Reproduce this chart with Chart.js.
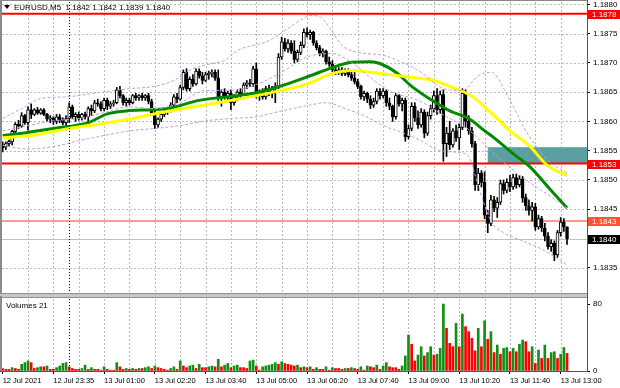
<!DOCTYPE html>
<html>
<head>
<meta charset="utf-8">
<script src="https://cdn.jsdelivr.net/npm/chart.js@4.4.1/dist/chart.umd.min.js"></script>
<style>
  html, body { margin: 0; padding: 0; background: #fff; }
  #wrap { position: relative; width: 620px; height: 388px; overflow: hidden; }
  canvas { position: absolute; left: 0; }
</style>
</head>
<body>
<div id="wrap">
  <canvas id="priceChart" width="620" height="296" style="top:0"></canvas>
  <canvas id="volChart" width="620" height="92" style="top:296px"></canvas>
</div>
<script>
// ---- data (EURUSD M5, one value per bar, bar 0 = 12 Jul 22:15) ----
const symbol = 'EURUSD,M5';

const opens = [
  1.18560,1.18556,1.18562,1.18565,1.18583,1.18595,1.18592,1.18610,1.18598,1.18620,1.18612,1.18620,1.18614,1.18620,1.18612,1.18604,
  1.18606,1.18600,1.18608,1.18602,1.18598,1.18605,1.18625,1.18608,1.18612,1.18606,1.18612,1.18608,1.18622,1.18618,1.18632,1.18630,
  1.18622,1.18636,1.18626,1.18630,1.18632,1.18654,1.18644,1.18632,1.18636,1.18632,1.18644,1.18640,1.18644,1.18640,1.18644,1.18634,
  1.18614,1.18594,1.18604,1.18612,1.18618,1.18620,1.18628,1.18642,1.18638,1.18658,1.18684,1.18656,1.18672,1.18664,1.18686,1.18678,
  1.18670,1.18680,1.18682,1.18684,1.18674,1.18642,1.18650,1.18642,1.18648,1.18632,1.18642,1.18650,1.18646,1.18662,1.18666,1.18664,
  1.18690,1.18646,1.18650,1.18642,1.18656,1.18648,1.18656,1.18660,1.18710,1.18736,1.18724,1.18734,1.18720,1.18706,1.18718,1.18730,
  1.18752,1.18748,1.18752,1.18734,1.18726,1.18716,1.18720,1.18702,1.18698,1.18688,1.18684,1.18688,1.18682,1.18686,1.18680,1.18674,
  1.18668,1.18660,1.18642,1.18648,1.18638,1.18628,1.18634,1.18652,1.18644,1.18652,1.18632,1.18626,1.18608,1.18644,1.18630,1.18636,
  1.18574,1.18588,1.18626,1.18606,1.18594,1.18616,1.18580,1.18610,1.18622,1.18644,1.18620,1.18646,1.18562,1.18580,1.18560,1.18584,
  1.18572,1.18590,1.18648,1.18600,1.18584,1.18562,1.18492,1.18512,1.18496,1.18440,1.18426,1.18466,1.18452,1.18462,1.18494,1.18482,
  1.18496,1.18488,1.18504,1.18492,1.18502,1.18470,1.18456,1.18448,1.18454,1.18420,1.18434,1.18418,1.18404,1.18386,1.18392,1.18372,
  1.18410,1.18428,1.18420
];
const highs = [
  1.18565,1.18565,1.18568,1.18585,1.18598,1.18602,1.18615,1.18612,1.18625,1.18630,1.18622,1.18624,1.18622,1.18622,1.18614,1.18610,
  1.18608,1.18612,1.18612,1.18606,1.18610,1.18632,1.18628,1.18615,1.18616,1.18614,1.18616,1.18625,1.18628,1.18636,1.18638,1.18634,
  1.18640,1.18640,1.18634,1.18636,1.18658,1.18660,1.18646,1.18640,1.18640,1.18646,1.18648,1.18646,1.18648,1.18646,1.18648,1.18638,
  1.18618,1.18606,1.18616,1.18622,1.18624,1.18632,1.18646,1.18648,1.18662,1.18688,1.18690,1.18676,1.18680,1.18690,1.18690,1.18684,
  1.18684,1.18686,1.18688,1.18688,1.18688,1.18654,1.18656,1.18652,1.18654,1.18646,1.18654,1.18656,1.18666,1.18670,1.18672,1.18694,
  1.18700,1.18654,1.18656,1.18660,1.18662,1.18660,1.18666,1.18716,1.18744,1.18742,1.18740,1.18738,1.18738,1.18722,1.18736,1.18758,
  1.18760,1.18756,1.18754,1.18738,1.18730,1.18724,1.18722,1.18710,1.18704,1.18694,1.18692,1.18692,1.18690,1.18690,1.18686,1.18686,
  1.18672,1.18662,1.18652,1.18650,1.18644,1.18640,1.18656,1.18656,1.18656,1.18654,1.18640,1.18628,1.18648,1.18646,1.18640,1.18640,
  1.18594,1.18632,1.18632,1.18618,1.18622,1.18620,1.18616,1.18628,1.18652,1.18656,1.18652,1.18654,1.18590,1.18600,1.18588,1.18594,
  1.18596,1.18656,1.18654,1.18610,1.18590,1.18566,1.18520,1.18516,1.18514,1.18448,1.18474,1.18472,1.18470,1.18500,1.18500,1.18502,
  1.18508,1.18510,1.18510,1.18508,1.18506,1.18476,1.18466,1.18462,1.18460,1.18440,1.18438,1.18426,1.18410,1.18398,1.18396,1.18414,
  1.18436,1.18434,1.18420
];
const lows = [
  1.18548,1.18552,1.18558,1.18560,1.18580,1.18588,1.18590,1.18595,1.18585,1.18605,1.18610,1.18612,1.18612,1.18610,1.18600,1.18598,
  1.18595,1.18596,1.18598,1.18594,1.18592,1.18598,1.18605,1.18600,1.18602,1.18602,1.18604,1.18598,1.18610,1.18615,1.18626,1.18618,
  1.18618,1.18620,1.18622,1.18626,1.18630,1.18640,1.18628,1.18626,1.18628,1.18630,1.18636,1.18636,1.18636,1.18636,1.18630,1.18610,
  1.18588,1.18590,1.18600,1.18608,1.18612,1.18616,1.18624,1.18632,1.18636,1.18654,1.18652,1.18652,1.18660,1.18662,1.18674,1.18664,
  1.18668,1.18672,1.18676,1.18670,1.18636,1.18626,1.18638,1.18636,1.18620,1.18628,1.18636,1.18640,1.18644,1.18656,1.18660,1.18660,
  1.18640,1.18636,1.18638,1.18638,1.18644,1.18640,1.18632,1.18656,1.18706,1.18720,1.18718,1.18716,1.18700,1.18702,1.18714,1.18726,
  1.18744,1.18740,1.18730,1.18722,1.18712,1.18710,1.18698,1.18694,1.18684,1.18680,1.18680,1.18678,1.18678,1.18676,1.18670,1.18664,
  1.18656,1.18638,1.18636,1.18632,1.18622,1.18624,1.18630,1.18638,1.18640,1.18626,1.18620,1.18600,1.18604,1.18626,1.18618,1.18566,
  1.18570,1.18584,1.18600,1.18588,1.18590,1.18572,1.18576,1.18604,1.18616,1.18612,1.18614,1.18532,1.18540,1.18552,1.18556,1.18566,
  1.18552,1.18586,1.18590,1.18578,1.18556,1.18482,1.18482,1.18488,1.18434,1.18410,1.18422,1.18446,1.18436,1.18458,1.18476,1.18478,
  1.18480,1.18484,1.18486,1.18488,1.18462,1.18448,1.18440,1.18430,1.18414,1.18416,1.18412,1.18396,1.18382,1.18378,1.18362,1.18368,
  1.18404,1.18412,1.18390
];
const closes = [
  1.18555,1.18562,1.18566,1.18583,1.18595,1.18592,1.18610,1.18598,1.18620,1.18612,1.18620,1.18614,1.18620,1.18612,1.18604,1.18606,
  1.18600,1.18608,1.18602,1.18598,1.18605,1.18625,1.18608,1.18612,1.18606,1.18612,1.18608,1.18622,1.18618,1.18632,1.18630,1.18622,
  1.18636,1.18626,1.18630,1.18632,1.18654,1.18644,1.18632,1.18636,1.18632,1.18644,1.18640,1.18644,1.18640,1.18644,1.18634,1.18614,
  1.18594,1.18604,1.18612,1.18618,1.18620,1.18628,1.18642,1.18638,1.18658,1.18684,1.18656,1.18672,1.18664,1.18686,1.18678,1.18670,
  1.18680,1.18682,1.18684,1.18674,1.18642,1.18650,1.18642,1.18648,1.18632,1.18642,1.18650,1.18646,1.18662,1.18666,1.18664,1.18690,
  1.18646,1.18650,1.18642,1.18656,1.18648,1.18656,1.18660,1.18710,1.18736,1.18724,1.18734,1.18720,1.18706,1.18718,1.18730,1.18752,
  1.18748,1.18752,1.18734,1.18726,1.18716,1.18720,1.18702,1.18698,1.18688,1.18684,1.18688,1.18682,1.18686,1.18680,1.18674,1.18668,
  1.18660,1.18642,1.18648,1.18638,1.18628,1.18634,1.18652,1.18644,1.18652,1.18632,1.18626,1.18608,1.18644,1.18630,1.18636,1.18574,
  1.18588,1.18626,1.18606,1.18594,1.18616,1.18580,1.18610,1.18622,1.18644,1.18620,1.18646,1.18562,1.18580,1.18560,1.18584,1.18572,
  1.18590,1.18648,1.18600,1.18584,1.18562,1.18492,1.18512,1.18496,1.18440,1.18426,1.18466,1.18452,1.18462,1.18494,1.18482,1.18496,
  1.18488,1.18504,1.18492,1.18502,1.18470,1.18456,1.18448,1.18454,1.18420,1.18434,1.18418,1.18404,1.18386,1.18392,1.18372,1.18410,
  1.18428,1.18420,1.18400
];
const volumes = [
  3,2,2,4,3,2,8,10,12,10,3,4,5,5,6,2,
  2,4,6,9,10,5,3,2,2,3,7,2,4,2,2,1,
  5,2,1,1,10,5,2,3,2,3,2,3,3,4,5,3,
  6,4,3,2,1,3,5,2,12,6,4,6,7,3,8,4,
  4,5,6,5,14,5,7,9,4,6,7,4,4,3,12,13,
  6,1,5,6,7,8,10,8,11,9,8,7,6,7,4,5,
  4,5,2,4,2,2,5,1,4,3,3,2,3,3,4,3,
  2,5,1,6,5,4,7,2,6,10,5,4,4,2,6,
  18,43,32,12,19,29,18,22,29,19,20,27,80,51,33,29,57,29,68,53,
  47,39,24,51,29,60,38,47,22,31,20,27,28,23,27,23,32,37,35,23,
  29,9,25,15,31,15,22,23,15,20,28,21
];

// moving averages and Bollinger bands as [bar, price]
const greenMA = [[0,1.18576],[5,1.18579],[16,1.18588],[27,1.18598],[33,1.18613],[39,1.18618],[47,1.18620],[52,1.18622],
  [62,1.18636],[74,1.18644],[80,1.18649],[88,1.18661],[97,1.18678],[104,1.18692],[110,1.18701],[116,1.18702],[119,1.18699],
  [124,1.18684],[129,1.18660],[136,1.18634],[141,1.18618],[147,1.18605],[152,1.18584],[155,1.18572],[161,1.18545],
  [166,1.18524],[173,1.18482],[178,1.18452]];
const yellowMA = [[0,1.18572],[10,1.18577],[21,1.18588],[31,1.18596],[41,1.18605],[47,1.18612],[57,1.18622],[68,1.18632],
  [78,1.18642],[88,1.18653],[97,1.18666],[104,1.18682],[110,1.18687],[116,1.18684],[122,1.18680],[129,1.18675],[136,1.18670],
  [141,1.18660],[146,1.18649],[149,1.18639],[155,1.18610],[160,1.18584],[166,1.18559],[172,1.18524],[178,1.18508]];
const bandUpper = [[0,1.18605],[6,1.18622],[12,1.18639],[20,1.18642],[30,1.18649],[40,1.18656],[48,1.18660],[54,1.18670],
  [60,1.18690],[66,1.18699],[70,1.18704],[74,1.18721],[84,1.18738],[90,1.18759],[94,1.18773],[97,1.18781],[100,1.18779],
  [103,1.18761],[107,1.18730],[112,1.18718],[120,1.18713],[126,1.18701],[132,1.18684],[139,1.18656],[145,1.18653],
  [150,1.18678],[154,1.18684],[160,1.18636],[165,1.18584],[172,1.18533],[178,1.18512]];
const bandMiddle = [[0,1.18584],[8,1.18593],[16,1.18601],[24,1.18605],[32,1.18615],[40,1.18625],[48,1.18622],[56,1.18632],
  [64,1.18653],[72,1.18653],[80,1.18663],[88,1.18684],[96,1.18710],[104,1.18716],[110,1.18701],[116,1.18675],[122,1.18652],
  [131,1.18636],[140,1.18608],[146,1.18590],[154,1.18550],[162,1.18512],[170,1.18482],[178,1.18452]];
const bandLower = [[0,1.18559],[8,1.18553],[16,1.18557],[24,1.18567],[32,1.18576],[40,1.18584],[48,1.18588],[56,1.18593],
  [64,1.18601],[72,1.18605],[80,1.18608],[88,1.18618],[96,1.18627],[102,1.18632],[108,1.18622],[114,1.18610],[120,1.18593],
  [126,1.18581],[132,1.18567],[138,1.18550],[144,1.18547],[147,1.18540],[150,1.18490],[154,1.18430],[158,1.18410],
  [164,1.18396],[170,1.18382],[178,1.18355]];

const priceTicks = [1.1835,1.1840,1.1845,1.1850,1.1855,1.1860,1.1865,1.1870,1.1875,1.1880];
const volTicks = [0, 80];
const timeLabels = ['12 Jul 2021','12 Jul 23:35','13 Jul 01:00','13 Jul 02:20','13 Jul 03:40','13 Jul 05:00',
  '13 Jul 06:20','13 Jul 07:40','13 Jul 09:00','13 Jul 10:20','13 Jul 11:40','13 Jul 13:00'];
const levels = [1.18784, 1.18528, 1.18430];      // drawn horizontal lines
const zone = { from: 153, top: 1.18556, bottom: 1.18528 };
const dayBreak = 21;                                // bar of 13 Jul 00:00

// ---- look ----
const FONT = '"Liberation Sans", Arial, sans-serif';
Chart.defaults.font.family = FONT;
Chart.defaults.font.size = 8;
Chart.defaults.color = '#000';

const GRID = '#b8b8b8';
const UP_VOL = '#138f13', DOWN_VOL = '#ff0000';
const levelColors = ['#ff0000', '#ff0000', '#ff7a5c'];
const tagColors = ['#ff0000', '#ff0000', '#ff5230'];

const xMin = -0.2, xMax = 184.3;
const gridBars = [];
for (let k = 0; k <= 176; k += 8) gridBars.push(k);

const toPts = arr => arr.map(p => ({ x: p[0], y: p[1] }));
const wicks = lows.map((l, i) => ({ x: i, y: [l, highs[i]] }));
const bodies = opens.map((o, i) => ({ x: i, y: [o, closes[i]] }));
const bodyColors = opens.map((o, i) => closes[i] >= o ? '#ffffff' : '#000000');
const volBars = volumes.map((v, i) => ({ x: i, y: v }));
const volColors = volumes.map((v, i) => i > 0 && v > volumes[i - 1] ? UP_VOL : DOWN_VOL);

// keep the plot edges fixed: no extra room for overhanging tick labels
const noPad = s => { s.paddingTop = 0; s.paddingBottom = 0; s.paddingLeft = 0; s.paddingRight = 0; };

function xAxis() {
  return {
    type: 'linear', min: xMin, max: xMax, offset: false,
    afterBuildTicks: s => { s.ticks = gridBars.map(v => ({ value: v })); },
    grid: { offset: false, drawOnChartArea: false, drawTicks: false },
    border: { display: false },
    ticks: { display: false }
  };
}

// dotted grid, one short segment at a time, placed through the chart's scales
function drawGrid(chart, withRows) {
  const { ctx, chartArea: a, scales: { x, y } } = chart;
  ctx.save();
  ctx.fillStyle = GRID;
  gridBars.forEach(v => {
    if (v === 0) return;
    const px = Math.round(x.getPixelForValue(v));
    for (let py = Math.ceil(a.top); py < a.bottom; py += 4) ctx.fillRect(px, py, 1, 2);
  });
  if (withRows) {
    priceTicks.forEach(v => {
      const py = Math.round(y.getPixelForValue(v));
      for (let px = Math.ceil(a.left); px < a.right; px += 4) ctx.fillRect(px, py, 2, 1);
    });
  }
  ctx.restore();
}

function dotted(ctx, x, top, bottom) {
  ctx.save();
  ctx.fillStyle = '#000';
  const px = Math.round(x);
  for (let py = Math.ceil(top); py < bottom; py += 3) ctx.fillRect(px, py, 1, 1);
  ctx.restore();
}

const priceDecor = {
  id: 'priceDecor',
  beforeDatasetsDraw(chart) {
    const { ctx, chartArea: a, scales: { x, y } } = chart;
    drawGrid(chart, true);
    ctx.save();
    // teal zone
    const zx = x.getPixelForValue(zone.from);
    const zt = y.getPixelForValue(zone.top), zb = y.getPixelForValue(zone.bottom);
    ctx.fillStyle = '#5a9fa1';
    ctx.fillRect(zx, zt, a.right - zx, zb - zt);
    // bid line
    const by = Math.round(y.getPixelForValue(closes[closes.length - 1]));
    ctx.fillStyle = '#c0c0c0';
    ctx.fillRect(a.left, by, a.right - a.left, 1);
    // levels
    levels.forEach((lv, i) => {
      const ly = y.getPixelForValue(lv);
      ctx.strokeStyle = levelColors[i];
      ctx.lineWidth = i < 2 ? 2 : 1.5;
      ctx.beginPath(); ctx.moveTo(a.left, ly); ctx.lineTo(a.right, ly); ctx.stroke();
    });
    ctx.restore();
  },
  afterDatasetsDraw(chart) {
    const { ctx, chartArea: a, scales: { x } } = chart;
    dotted(ctx, x.getPixelForValue(dayBreak), a.top, chart.height);
  },
  afterDraw(chart) {
    const { ctx, chartArea: a, scales: { y } } = chart;
    ctx.save();
    // frame
    ctx.fillStyle = '#8a8a8a';
    ctx.fillRect(0, 0, 2, chart.height);
    ctx.fillRect(0, 0, a.right, 1);
    ctx.fillStyle = '#909090';
    ctx.fillRect(0, a.bottom, a.right + 1, 1);
    ctx.fillStyle = '#c8c8c8';
    ctx.fillRect(0, a.bottom + 1, a.right + 1, chart.height - a.bottom - 1);
    ctx.fillStyle = '#555';
    ctx.fillRect(a.right, 0, 1, chart.height);
    // price tags
    ctx.font = '8px ' + FONT;
    ctx.textBaseline = 'middle';
    const tag = (val, bg) => {
      const ty = Math.round(y.getPixelForValue(val));
      ctx.fillStyle = bg;
      ctx.fillRect(a.right + 1, ty - 4, 32, 9);
      ctx.fillStyle = '#fff';
      ctx.fillText(val.toFixed(4), a.right + 5, ty + 0.5);
    };
    levels.forEach((lv, i) => tag(lv, tagColors[i]));
    tag(closes[closes.length - 1], '#000');
    // title
    const n = closes.length - 1;
    const title = symbol + '  ' + [opens[n], highs[n], lows[n], closes[n]].map(v => v.toFixed(4)).join(' ');
    ctx.fillStyle = '#000';
    ctx.beginPath(); ctx.moveTo(4, 5); ctx.lineTo(10, 5); ctx.lineTo(7, 9); ctx.closePath(); ctx.fill();
    ctx.fillText(title, 14, 8);
    ctx.restore();
  }
};

new Chart(document.getElementById('priceChart'), {
  type: 'bar',
  data: {
    datasets: [
      { type: 'line', data: toPts(bandUpper), borderColor: '#c79be3', borderWidth: 1, borderDash: [3, 2],
        pointRadius: 0, cubicInterpolationMode: 'monotone', order: 0, clip: 0 },
      { type: 'line', data: toPts(bandMiddle), borderColor: '#c79be3', borderWidth: 1, borderDash: [3, 2],
        pointRadius: 0, cubicInterpolationMode: 'monotone', order: 0, clip: 0 },
      { type: 'line', data: toPts(bandLower), borderColor: '#c79be3', borderWidth: 1, borderDash: [3, 2],
        pointRadius: 0, cubicInterpolationMode: 'monotone', order: 0, clip: 0 },
      { type: 'line', data: toPts(yellowMA), borderColor: '#ffff00', borderWidth: 3,
        pointRadius: 0, cubicInterpolationMode: 'monotone', order: 0, clip: 0 },
      { type: 'line', data: toPts(greenMA), borderColor: '#008a00', borderWidth: 3,
        pointRadius: 0, cubicInterpolationMode: 'monotone', order: 0, clip: 0 },
      { type: 'bar', data: bodies, backgroundColor: bodyColors, borderColor: '#000', borderWidth: 1,
        borderSkipped: false, barThickness: 3, minBarLength: 1, grouped: false, order: 1, clip: 0 },
      { type: 'bar', data: wicks, backgroundColor: '#000', barThickness: 1, grouped: false, order: 2, clip: 0 }
    ]
  },
  options: {
    responsive: false,
    animation: false,
    devicePixelRatio: 1,
    events: [],
    layout: { padding: { left: 2, right: 0, top: 2, bottom: 3 } },
    plugins: { legend: { display: false }, tooltip: { enabled: false } },
    scales: {
      x: xAxis(),
      y: {
        type: 'linear', position: 'right', min: 1.18307, max: 1.18804,
        afterBuildTicks: s => { s.ticks = priceTicks.map(v => ({ value: v })); },
        afterFit: s => { s.width = 33; noPad(s); },
        grid: { drawOnChartArea: false, tickColor: '#000', tickLength: 3 },
        border: { display: false },
        ticks: { padding: 3, callback: v => v.toFixed(4), font: { size: 8 } }
      }
    }
  },
  plugins: [priceDecor]
});

const volDecor = {
  id: 'volDecor',
  beforeDatasetsDraw(chart) { drawGrid(chart, false); },
  afterDatasetsDraw(chart) {
    const { ctx, chartArea: a, scales: { x } } = chart;
    dotted(ctx, x.getPixelForValue(dayBreak), 0, a.bottom);
  },
  afterDraw(chart) {
    const { ctx, chartArea: a } = chart;
    ctx.save();
    ctx.fillStyle = '#c8c8c8';
    ctx.fillRect(0, 0, a.right + 1, 1);
    ctx.fillStyle = '#909090';
    ctx.fillRect(0, 1, a.right + 1, 1);
    ctx.fillStyle = '#8a8a8a';
    ctx.fillRect(0, 0, 2, a.bottom + 1);
    ctx.fillStyle = '#555';
    ctx.fillRect(a.right, 0, 1, a.bottom + 1);
    ctx.fillRect(0, a.bottom, a.right + 1, 1);
    ctx.fillStyle = '#000';
    ctx.font = '8px ' + FONT;
    ctx.textBaseline = 'middle';
    ctx.fillText('Volumes ' + volumes[volumes.length - 1], 6, 10);
    ctx.restore();
  }
};

const volX = xAxis();
volX.grid.drawTicks = true;
volX.grid.tickLength = 3;
volX.grid.tickColor = c => (c.tick && c.tick.value % 16 === 0) ? '#000' : 'rgba(0,0,0,0)';
volX.ticks = {
  display: true, autoSkip: false, maxRotation: 0, minRotation: 0, align: 'start', padding: 2,
  font: { size: 7.5 },
  callback: v => v % 16 === 0 ? timeLabels[v / 16] : ''
};
volX.afterFit = s => { s.height = 17; noPad(s); };

new Chart(document.getElementById('volChart'), {
  type: 'bar',
  data: {
    datasets: [
      { data: volBars, backgroundColor: volColors, barThickness: 2, grouped: false, clip: 0 }
    ]
  },
  options: {
    responsive: false,
    animation: false,
    devicePixelRatio: 1,
    events: [],
    layout: { padding: { left: 2, right: 0, top: 3, bottom: 0 } },
    plugins: { legend: { display: false }, tooltip: { enabled: false } },
    scales: {
      x: volX,
      y: {
        type: 'linear', position: 'right', min: 0, max: 86,
        afterBuildTicks: s => { s.ticks = volTicks.map(v => ({ value: v })); },
        afterFit: s => { s.width = 33; noPad(s); },
        grid: { drawOnChartArea: false, tickColor: '#000', tickLength: 3 },
        border: { display: false },
        ticks: { padding: 3, font: { size: 8 } }
      }
    }
  },
  plugins: [volDecor]
});
</script>
</body>
</html>
